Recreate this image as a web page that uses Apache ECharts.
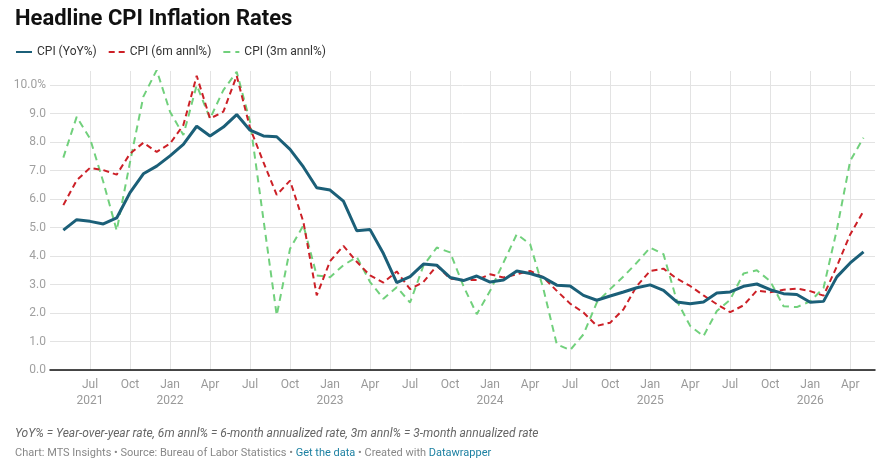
<!DOCTYPE html>
<html>
<head>
<meta charset="utf-8">
<script src="https://cdn.jsdelivr.net/npm/echarts@6/dist/echarts.min.js"></script>
<style>
  html, body { margin: 0; padding: 0; background: #fff; }
  #main { width: 895px; height: 469px; }
</style>
</head>
<body>
<div id="main"></div>
<script>
// monthly, May 2021 .. May 2026
let startYear = 2021;
let startMonth = 5;
let quarterNames = ['Jan', 'Apr', 'Jul', 'Oct'];
let seriesNames = ['CPI (YoY%)', 'CPI (6m annl%)', 'CPI (3m annl%)'];

let yoy = [
    4.91, 5.28, 5.22, 5.13, 5.34, 6.23, 6.89, 7.16,
    7.52, 7.92, 8.56, 8.22, 8.53, 8.97, 8.42, 8.22, 8.19, 7.75, 7.13, 6.40,
    6.32, 5.93, 4.89, 4.93, 4.09, 3.07, 3.28, 3.72, 3.68, 3.25, 3.14, 3.30,
    3.09, 3.16, 3.48, 3.39, 3.25, 2.98, 2.95, 2.62, 2.45, 2.60, 2.74, 2.89,
    2.99, 2.80, 2.39, 2.33, 2.39, 2.70, 2.74, 2.94, 3.02, 2.82, 2.68, 2.65,
    2.38, 2.41, 3.27, 3.76, 4.15
];
let annl6m = [
    5.79, 6.66, 7.10, 7.02, 6.86, 7.60, 7.98, 7.66,
    7.95, 8.60, 10.33, 8.83, 9.07, 10.33, 8.50, 7.30, 6.15, 6.65, 5.20, 2.62,
    3.82, 4.36, 3.80, 3.32, 3.07, 3.46, 2.84, 3.09, 3.66, 3.21, 3.16, 3.16,
    3.36, 3.25, 3.36, 3.48, 3.25, 2.78, 2.33, 2.02, 1.55, 1.66, 2.13, 2.95,
    3.48, 3.56, 3.21, 2.95, 2.62, 2.31, 2.03, 2.27, 2.79, 2.73, 2.82, 2.86,
    2.77, 2.61, 3.64, 4.76, 5.58
];
let annl3m = [
    7.46, 8.89, 8.13, 6.60, 4.90, 7.30, 9.60, 10.53,
    9.07, 8.25, 10.00, 8.83, 9.83, 10.47, 8.72, 5.30, 1.92, 4.26, 5.08, 3.32,
    3.26, 3.68, 3.97, 3.09, 2.50, 2.91, 2.37, 3.66, 4.30, 4.13, 2.95, 1.96,
    2.78, 3.77, 4.77, 4.42, 2.84, 0.90, 0.70, 1.25, 2.37, 2.84, 3.28, 3.77,
    4.30, 4.07, 2.43, 1.55, 1.19, 2.07, 2.47, 3.39, 3.50, 3.12, 2.24, 2.21,
    2.41, 2.88, 4.93, 7.34, 8.16
];

// x = months since Jan of startYear
function toPoints(arr) {
    return arr.map(function (v, i) {
        return [startMonth - 1 + i, v];
    });
}

let font = 'Roboto, "Noto Sans", sans-serif';

let chart = echarts.init(document.getElementById('main'));

let option = {
    animation: false,
    textStyle: { fontFamily: font },
    title: [{
        text: 'Headline CPI Inflation Rates',
        left: 10,
        top: 3,
        textStyle: { fontSize: 22, fontWeight: 'bold', color: '#111', fontFamily: font }
    }, {
        text: 'YoY% = Year-over-year rate, 6m annl% = 6-month annualized rate, 3m annl% = 3-month annualized rate',
        left: 10,
        top: 423,
        textStyle: { fontSize: 12, fontStyle: 'italic', fontWeight: 'normal', color: '#666', fontFamily: font }
    }, {
        text: 'Chart: MTS Insights • Source: Bureau of Labor Statistics • {l|Get the data} • Created with {l|Datawrapper}',
        left: 10,
        top: 443,
        textStyle: {
            fontSize: 11, fontWeight: 'normal', color: '#888', fontFamily: font,
            rich: { l: { color: '#1d81a2', fontSize: 11, fontFamily: font } }
        }
    }],
    legend: {
        left: 10,
        top: 41,
        itemWidth: 16,
        itemHeight: 10,
        itemGap: 11,
        itemStyle: { opacity: 0 },
        textStyle: { fontSize: 12, color: '#333', fontFamily: font },
        data: seriesNames
    },
    grid: {
        left: 50,
        right: 20,
        top: 71,
        bottom: 99
    },
    xAxis: {
        type: 'value',
        min: 3,
        max: 64.86,
        interval: 3,
        axisLine: { show: true, onZero: false, lineStyle: { color: '#111', width: 1.5 } },
        axisTick: { show: false },
        splitLine: { show: true, showMinLine: false, showMaxLine: false, lineStyle: { color: '#e3e3e3', width: 1 } },
        axisLabel: {
            showMinLabel: false,
            showMaxLabel: false,
            margin: 7,
            color: '#999',
            fontSize: 12,
            lineHeight: 16,
            fontFamily: font,
            formatter: function (v) {
                let m = Math.round(v) % 12;
                let y = startYear + Math.floor(Math.round(v) / 12);
                let name = quarterNames[m / 3];
                if (m === 0 || Math.round(v) === 6) {
                    return name + '\n' + y;
                }
                return name;
            }
        }
    },
    yAxis: {
        type: 'value',
        min: 0,
        max: 10.5,
        interval: 1,
        axisLine: { show: false },
        axisTick: { show: false },
        splitLine: { show: true, showMaxLine: false, lineStyle: { color: '#e3e3e3', width: 1 } },
        axisLabel: {
            showMaxLabel: false,
            margin: 4,
            color: '#a0a0a0',
            fontSize: 12,
            fontFamily: font,
            formatter: function (v) {
                return v === 10 ? '10.0%' : v.toFixed(1);
            }
        }
    },
    series: [{
        name: seriesNames[0],
        type: 'line',
        data: toPoints(yoy),
        symbol: 'none',
        z: 5,
        lineStyle: { color: '#1b5f78', width: 3 },
        itemStyle: { color: '#1b5f78' }
    }, {
        name: seriesNames[1],
        type: 'line',
        data: toPoints(annl6m),
        symbol: 'none',
        z: 4,
        lineStyle: { color: '#cc2027', width: 2, type: [6, 4] },
        itemStyle: { color: '#cc2027' }
    }, {
        name: seriesNames[2],
        type: 'line',
        data: toPoints(annl3m),
        symbol: 'none',
        z: 3,
        lineStyle: { color: '#71d07c', width: 2, type: [7, 5] },
        itemStyle: { color: '#71d07c' }
    }]
};

chart.setOption(option);
</script>
</body>
</html>
